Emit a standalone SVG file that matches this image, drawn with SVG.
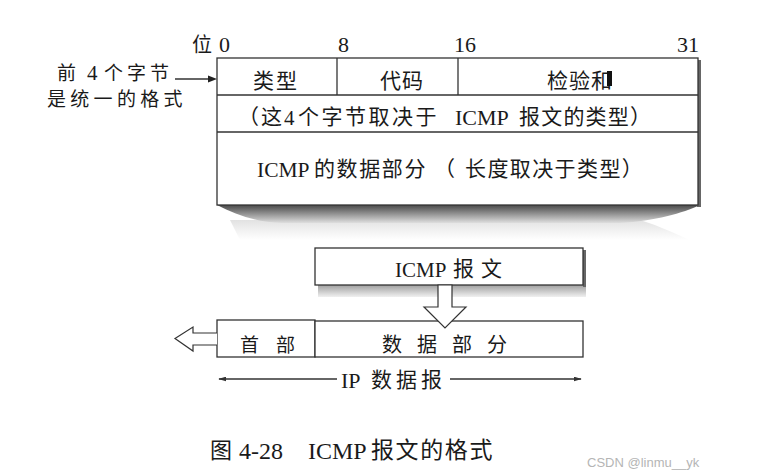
<svg xmlns="http://www.w3.org/2000/svg" width="772" height="476" viewBox="0 0 772 476">
<style>
  .t { font-family: "Liberation Serif", "Noto Sans CJK SC", serif; fill: #1a1a1a; }
  .c { font-family: "Noto Sans CJK SC", "Liberation Serif", sans-serif; fill: #1a1a1a; }
  .box { fill: #fff; stroke: #333; stroke-width: 1.3; }
  .ln { stroke: #333; stroke-width: 1.3; fill: none; }
  .hollow { fill: #fff; stroke: #333; stroke-width: 1.2; }
</style>
<defs>
  <linearGradient id="shadeMain" x1="0" y1="0" x2="0" y2="1">
    <stop offset="0" stop-color="#4a4a4a"/>
    <stop offset="0.45" stop-color="#8c8c8c"/>
    <stop offset="1" stop-color="#dedede"/>
  </linearGradient>
  <linearGradient id="fadeMain" x1="0" y1="0" x2="0" y2="1">
    <stop offset="0" stop-color="#e2e2e2"/>
    <stop offset="1" stop-color="#ffffff"/>
  </linearGradient>
  <linearGradient id="shadeSmall" x1="0" y1="0" x2="0" y2="1">
    <stop offset="0" stop-color="#a0a0a0"/>
    <stop offset="1" stop-color="#f0f0f0"/>
  </linearGradient>
  <marker id="dot" viewBox="0 0 10 6" refX="9" refY="3" markerWidth="8" markerHeight="5" orient="auto-start-reverse" markerUnits="userSpaceOnUse">
    <path d="M0,0 L10,3 L0,6 Z" fill="#333"/>
  </marker>
</defs>
<rect width="772" height="476" fill="#fff"/>

<!-- bit labels -->
<g id="bit-labels">
  <text class="c" x="192" y="52" font-size="20">位</text>
  <text class="t" x="219" y="52" font-size="22">0</text>
  <text class="t" x="338" y="52" font-size="22">8</text>
  <text class="t" x="454" y="52" font-size="22">16</text>
  <text class="t" x="677" y="52" font-size="22">31</text>
</g>

<!-- left note -->
<g id="note">
  <text class="c" x="57" y="80" font-size="19">前</text>
  <text class="t" x="87" y="80" font-size="21">4</text>
  <text class="c" x="104" y="80" font-size="19" letter-spacing="4">个字节</text>
  <text class="c" x="47" y="106" font-size="19" letter-spacing="4.3">是统一的格式</text>
</g>

<!-- main ICMP message box -->
<g id="icmp-format">
  <path d="M230,220 L640,220 C660,226 680,236 690,240 L240,240 Z" fill="url(#fadeMain)"/>
  <path d="M217,205 C236,215 256,222 282,223 L620,223 C655,221 683,213 700,205 Z" fill="url(#shadeMain)"/>
  <rect x="697" y="60" width="4" height="147" fill="#666"/>
  <rect class="box" x="217" y="58" width="481" height="147"/>
  <line class="ln" x1="217" y1="95" x2="698" y2="95"/>
  <line class="ln" x1="217" y1="132" x2="698" y2="132"/>
  <line class="ln" x1="337" y1="58" x2="337" y2="95"/>
  <line class="ln" x1="458" y1="58" x2="458" y2="95"/>
  <text class="c" x="253" y="88" font-size="21" letter-spacing="2">类型</text>
  <text class="c" x="380" y="88" font-size="21" letter-spacing="1">代码</text>
  <text class="c" x="547" y="88" font-size="21" letter-spacing="1">检验和</text>
  <rect x="607" y="71" width="5" height="15" fill="#111"/>
  <!-- row 2 -->
  <text class="c" x="238" y="124" font-size="21" letter-spacing="2">（这</text>
  <text class="t" x="284" y="125" font-size="21">4</text>
  <text class="c" x="298" y="124" font-size="21" letter-spacing="2.5">个字节取决于</text>
  <text class="t" x="455" y="125" font-size="22">ICMP</text>
  <text class="c" x="519" y="124" font-size="21" letter-spacing="1.2">报文的类型）</text>
  <!-- row 3 -->
  <text class="t" x="257" y="177" font-size="21.5">ICMP</text>
  <text class="c" x="314" y="176" font-size="21" letter-spacing="1.6">的数据部分</text>
  <text class="c" x="434" y="176" font-size="21">（</text>
  <text class="c" x="465" y="176" font-size="21" letter-spacing="1.4">长度取决于类型）</text>
</g>

<!-- ICMP message box -->
<g id="icmp-msg">
  <rect x="318" y="285" width="268" height="12" fill="url(#shadeSmall)"/>
  <rect x="583" y="250" width="3" height="37" fill="#666"/>
  <rect class="box" x="315" y="248" width="268" height="37"/>
  <text class="t" x="395" y="277" font-size="21">ICMP</text>
  <text class="c" x="453" y="276" font-size="21" letter-spacing="7">报文</text>
</g>

<!-- IP header box -->
<g id="ip-header">
  <rect class="box" x="217" y="320" width="98" height="37"/>
  <text class="c" x="240" y="352" font-size="19" letter-spacing="17">首部</text>
</g>

<!-- IP data box -->
<g id="ip-data">
  <rect class="box" x="315" y="321" width="268" height="36"/>
  <text class="c" x="382" y="352" font-size="20" letter-spacing="15">数据部分</text>
</g>

<!-- connectors -->
<g id="connectors">
  <line class="ln" x1="175" y1="79" x2="210" y2="79"/>
  <path d="M217,79 L208,75.5 L208,82.5 Z" fill="#222"/>
  <path class="hollow" d="M438,285 L452,285 L452,307 L466,307 L445,328 L424,307 L438,307 Z"/>
  <path class="hollow" d="M217,333 L193,333 L193,327 L175,338.5 L193,351 L193,345 L217,345"/>
  <line class="ln" x1="219" y1="379" x2="337" y2="379" marker-start="url(#dot)"/>
  <line class="ln" x1="450" y1="379" x2="581" y2="379" marker-end="url(#dot)"/>
</g>

<g id="ip-datagram-label">
  <text class="t" x="341" y="388" font-size="22">IP</text>
  <text class="c" x="371" y="387" font-size="21" letter-spacing="4">数据报</text>
</g>

<g id="caption">
  <text class="c" x="210" y="458" font-size="22">图</text>
  <text class="t" x="239" y="459" font-size="24">4-28</text>
  <text class="t" x="308" y="459" font-size="24">ICMP</text>
  <text class="c" x="371" y="458" font-size="23" letter-spacing="1.6">报文的格式</text>
  <text x="587" y="467" font-size="13" fill="#b5b5b5" font-family="Liberation Sans, sans-serif">CSDN @linmu__yk</text>
</g>
</svg>
